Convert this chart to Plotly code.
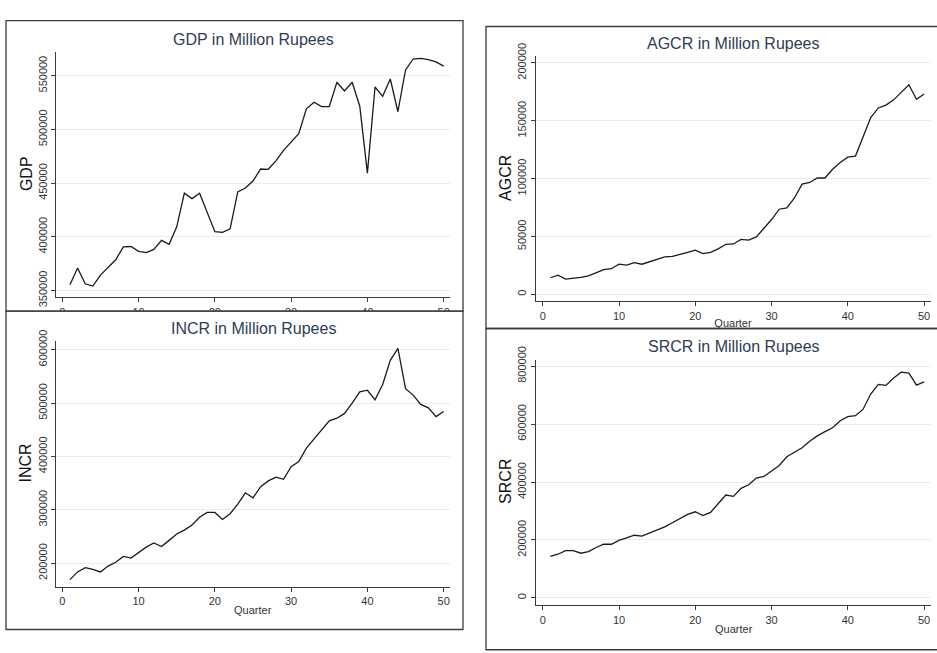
import plotly.graph_objects as go

# Canvas size in pixels
W, H = 937, 653

# ---------------- data ----------------
quarter = list(range(1, 51))

gdp = [355400, 371000, 356300, 354200, 364400, 371900, 378700, 390700, 391000, 386500,
       385300, 388300, 396700, 393100, 409300, 440700, 435600, 440700, 422800, 404800,
       404200, 407500, 441900, 445500, 452000, 463200, 462900, 470700, 480500, 488600,
       496100, 519200, 525400, 521300, 521300, 544000, 535900, 544000, 521600, 459300,
       539500, 530800, 547000, 516500, 555400, 565600, 566200, 565000, 562900, 559000]

agcr = [14400, 16700, 13300, 13900, 14700, 16100, 18600, 21400, 22200, 26100,
        25300, 27500, 26100, 28300, 30600, 32500, 32800, 34400, 36400, 38300,
        35300, 36400, 39400, 43300, 43600, 47500, 46900, 49700, 57500, 64700,
        73600, 74700, 83300, 95300, 96700, 100600, 100600, 108100, 113900, 118600,
        119500, 136100, 152800, 161100, 163600, 168100, 174500, 181100, 168600, 173100]

incr = [169300, 183700, 191600, 188600, 183700, 194600, 201800, 212700, 209600, 220500,
        230100, 238000, 231300, 242800, 254800, 262000, 271700, 286100, 295200, 295200,
        281900, 292800, 310800, 331900, 322600, 343400, 354200, 361400, 357200, 380700,
        390400, 415700, 432500, 450600, 466900, 471700, 480700, 500000, 521100, 524100,
        506000, 534900, 580100, 602400, 527100, 515000, 497600, 491000, 474700, 484300]

srcr = [143100, 150900, 163100, 163100, 154300, 159800, 174200, 185300, 185300, 198600,
        207500, 216400, 213100, 224100, 234100, 245200, 259600, 274100, 288500, 297400,
        284000, 295200, 324000, 355000, 350600, 378400, 390600, 413900, 419400, 437200,
        457200, 487100, 501500, 518200, 540400, 559200, 573700, 587000, 611400, 625800,
        629100, 651300, 703500, 736800, 733400, 758900, 778900, 775600, 734600, 745700]

x_ticks = [0, 10, 20, 30, 40, 50]
gdp_ticks = [350000, 400000, 450000, 500000, 550000]
agcr_ticks = [0, 50000, 100000, 150000, 200000]
incr_ticks = [200000, 300000, 400000, 500000, 600000]
srcr_ticks = [0, 200000, 400000, 600000, 800000]

# ---------------- styling ----------------
FONT = "Liberation Sans, Arial, sans-serif"
TITLE_COLOR = "#2e3d55"
AXIS_COLOR = "#3a3a3a"
GRID_COLOR = "#ececec"
LINE_COLOR = "#1a1a1a"
BORDER_COLOR = "#3c3c3c"
LABEL_COLOR = "#333333"

# Top edges of the two lower panels (px)
LOWER_LEFT_TOP = 309
LOWER_RIGHT_TOP = 327


def fx(px):
    return px / W


def fy(py):
    return 1 - py / H


fig = go.Figure()


def x_axis(left, right, rng, anchor):
    return dict(domain=[fx(left), fx(right)], range=rng, anchor=anchor,
                tickvals=x_ticks, ticks="outside", ticklen=4, tickwidth=1,
                tickcolor=AXIS_COLOR, showline=True, linecolor=AXIS_COLOR,
                linewidth=1, showgrid=False, zeroline=False,
                tickfont=dict(family=FONT, size=11, color=LABEL_COLOR))


def y_axis(top, bottom, rng, ticks, anchor):
    return dict(domain=[fy(bottom), fy(top)], range=rng, anchor=anchor,
                tickvals=ticks, tickformat="d", tickangle=-90,
                ticks="outside", ticklen=4, tickwidth=1, tickcolor=AXIS_COLOR,
                showline=True, linecolor=AXIS_COLOR, linewidth=1,
                showgrid=True, gridcolor=GRID_COLOR, gridwidth=1,
                zeroline=False,
                tickfont=dict(family=FONT, size=11, color=LABEL_COLOR))


line_style = dict(color=LINE_COLOR, width=1.3)

# Upper-left: GDP
fig.add_trace(go.Scatter(x=quarter, y=gdp, mode="lines", line=line_style,
                         xaxis="x", yaxis="y"))
# Upper-right: AGCR
fig.add_trace(go.Scatter(x=quarter, y=agcr, mode="lines", line=line_style,
                         xaxis="x2", yaxis="y2"))

# Overlay layer (paper coordinates): x title of the AGCR panel, then the white
# sheets of the two lower panels, which hide whatever spills out of the upper ones
fig.add_trace(go.Scatter(x=[fx(733)], y=[fy(322.5)], mode="text", text=["Quarter"],
                         textposition="middle center",
                         textfont=dict(family=FONT, size=11, color=LABEL_COLOR),
                         xaxis="x3", yaxis="y3"))
fig.add_trace(go.Scatter(
    x=[fx(6), fx(463), fx(463), fx(6), fx(6)],
    y=[fy(LOWER_LEFT_TOP), fy(LOWER_LEFT_TOP), fy(653), fy(653), fy(LOWER_LEFT_TOP)],
    mode="lines", fill="toself", fillcolor="white", line=dict(width=0),
    xaxis="x3", yaxis="y3"))
fig.add_trace(go.Scatter(
    x=[fx(486), fx(937), fx(937), fx(486), fx(486)],
    y=[fy(LOWER_RIGHT_TOP), fy(LOWER_RIGHT_TOP), fy(653), fy(653), fy(LOWER_RIGHT_TOP)],
    mode="lines", fill="toself", fillcolor="white", line=dict(width=0),
    xaxis="x3", yaxis="y3"))

# Lower-left: INCR
fig.add_trace(go.Scatter(x=quarter, y=incr, mode="lines", line=line_style,
                         xaxis="x4", yaxis="y4"))
# Lower-right: SRCR
fig.add_trace(go.Scatter(x=quarter, y=srcr, mode="lines", line=line_style,
                         xaxis="x5", yaxis="y5"))

left_rng = [-0.83, 50.83]
right_rng = [-0.92, 50.9]

fig.update_layout(
    width=W, height=H,
    margin=dict(l=0, r=0, t=0, b=0),
    paper_bgcolor="white", plot_bgcolor="rgba(0,0,0,0)",
    showlegend=False, hovermode=False,
    xaxis=x_axis(56, 450, left_rng, "y"),
    yaxis=y_axis(40, 294.7, [343700, 572500], gdp_ticks, "x"),
    xaxis2=x_axis(535.7, 931, right_rng, "y2"),
    yaxis2=y_axis(44.3, 299, [-6080, 206200], agcr_ticks, "x2"),
    xaxis3=dict(domain=[0, 1], range=[0, 1], visible=False, anchor="y3"),
    yaxis3=dict(domain=[0, 1], range=[0, 1], visible=False, anchor="x3"),
    xaxis4=x_axis(56, 450, left_rng, "y4"),
    yaxis4=y_axis(340, 594.7, [155900, 616300], incr_ticks, "x4"),
    xaxis5=x_axis(535.7, 931, right_rng, "y5"),
    yaxis5=y_axis(359.3, 614, [-25600, 822300], srcr_ticks, "x5"),
)

# Panel frames
frames = [(6, 8, 463, LOWER_LEFT_TOP), (486, 14, 940, LOWER_RIGHT_TOP),
          (6, LOWER_LEFT_TOP, 463, 639), (486, LOWER_RIGHT_TOP, 940, 660)]
for x0, y0, x1, y1 in frames:
    fig.add_shape(type="rect", xref="paper", yref="paper",
                  x0=fx(x0), x1=fx(x1), y0=fy(y1), y1=fy(y0),
                  line=dict(color=BORDER_COLOR, width=1.3), fillcolor="rgba(0,0,0,0)",
                  layer="above")

# Panel titles
titles = [("GDP in Million Rupees", 253, 27), ("AGCR in Million Rupees", 733, 32),
          ("INCR in Million Rupees", 253, 327), ("SRCR in Million Rupees", 734, 346)]
for text, px, py in titles:
    fig.add_annotation(text=text, x=fx(px), y=fy(py), xref="paper", yref="paper",
                       xanchor="center", yanchor="middle", showarrow=False,
                       font=dict(family=FONT, size=16, color=TITLE_COLOR))

# Y-axis titles
ytitles = [("GDP", 26, 167), ("AGCR", 506, 171), ("INCR", 26, 467), ("SRCR", 506, 486)]
for text, px, py in ytitles:
    fig.add_annotation(text=text, x=fx(px), y=fy(py), xref="paper", yref="paper",
                       xanchor="center", yanchor="middle", showarrow=False,
                       textangle=-90,
                       font=dict(family=FONT, size=16, color="#111111"))

# X-axis titles of the lower panels
for px, py in [(253, 619), (734, 638)]:
    fig.add_annotation(text="Quarter", x=fx(px), y=fy(py), xref="paper", yref="paper",
                       xanchor="center", yanchor="middle", showarrow=False,
                       font=dict(family=FONT, size=11, color=LABEL_COLOR))

fig.write_html("out.html")
